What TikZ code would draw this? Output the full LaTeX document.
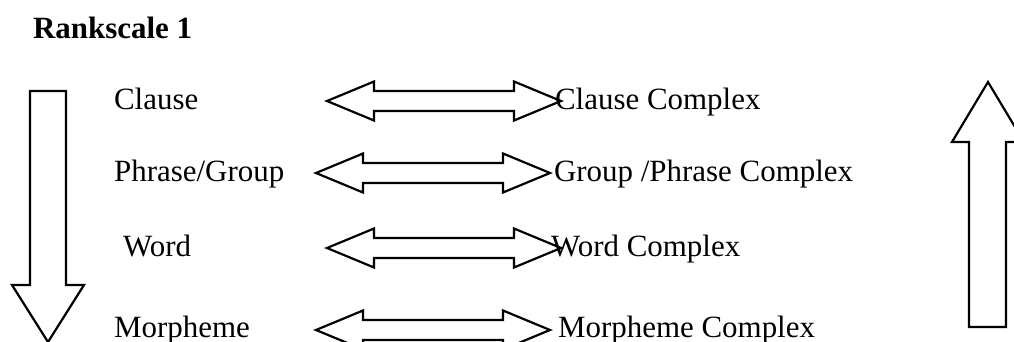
\documentclass[tikz,border=0pt]{standalone}
\usepackage{fontspec}
\setmainfont{Liberation Serif}

\begin{document}
\begin{tikzpicture}[x=0.025cm, y=-0.025cm, line width=0.055cm]
	\tikzset{rank/.style = {anchor=base west, inner sep=0pt, font=\fontsize{22}{26}\selectfont}};
	%Rahmen
	\clip (0,0) rectangle (1014,342);
	
	%Titel
	\node[rank, font=\fontsize{22}{26}\selectfont\bfseries] (titel) at (32,38) {Rankscale 1};
	
	%Ebenen links
	\node[rank] (clause) at (113,109) {Clause};
	\node[rank] (phrase) at (113,181) {Phrase/Group};
	\node[rank] (word) at (122,256) {Word};
	\node[rank] (morph) at (113,337) {Morpheme};
	%Ebenen rechts
	\node[rank] (clausecx) at (554,109) {Clause Complex};
	\node[rank] (phrasecx) at (553,181) {Group /Phrase Complex};
	\node[rank] (wordcx) at (550,256) {Word Complex};
	\node[rank] (morphcx) at (557,337) {Morpheme Complex};
	
	%Doppelpfeil
	\newcommand{\doppelpfeil}[2]
	{
		\draw (#1,#2) -- ++(47,-19.5) -- ++(0,9.5) -- ++(140,0) -- ++(0,-9.5) -- ++(47,19.5)
			-- ++(-47,19.5) -- ++(0,-9.5) -- ++(-140,0) -- ++(0,9.5) -- cycle;
	};
	\doppelpfeil{327}{101}
	\doppelpfeil{316}{173}
	\doppelpfeil{327}{248}
	\doppelpfeil{316}{330}
	
	%Pfeil links (nach unten)
	\draw (30,91) -- ++(36,0) -- ++(0,194) -- ++(18,0) -- (48,342) -- (12,285) -- ++(18,0) -- cycle;
	%Pfeil rechts (nach oben)
	\draw (969,327) -- ++(0,-185) -- ++(-17,0) -- (988,82) -- (1024,142) -- ++(-18,0) -- (1006,327) -- cycle;
\end{tikzpicture}
\end{document}
